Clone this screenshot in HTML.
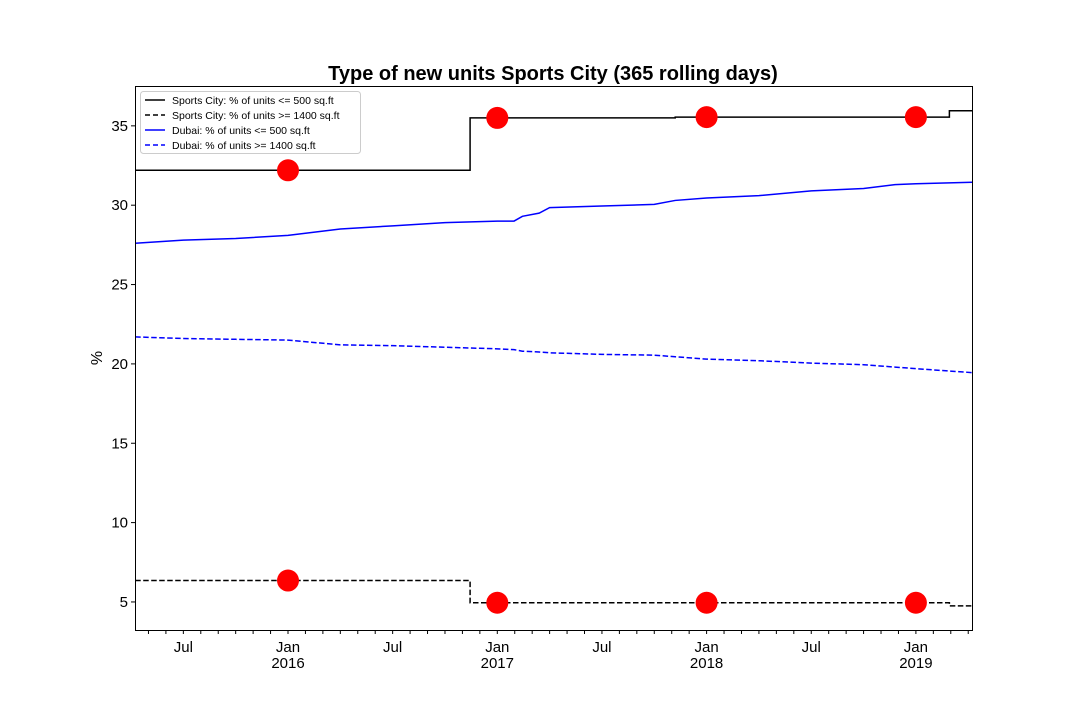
<!DOCTYPE html>
<html><head><meta charset="utf-8"><style>
body{margin:0;background:#fff}
svg text{font-family:"Liberation Sans","DejaVu Sans",sans-serif}
</style></head><body>
<svg id="chart" width="1080" height="720" xmlns="http://www.w3.org/2000/svg">
<rect width="1080" height="720" fill="#fff"/>
<text x="553" y="80" text-anchor="middle" font-size="20" font-weight="bold">Type of new units Sports City (365 rolling days)</text>
<text transform="translate(102,358) rotate(-90)" text-anchor="middle" font-size="16">%</text>
<g id="plot"></g>
<rect x="135.5" y="86.5" width="837" height="544" fill="none" stroke="#000" stroke-width="1"/>
<g>
<rect x="140.5" y="91.5" width="220" height="62" rx="3" fill="#fff" stroke="#ccc"/>
<line x1="145" y1="100" x2="165" y2="100" stroke="#000" stroke-width="1.5"/>
<text x="172" y="104" font-size="10.5">Sports City: % of units &lt;= 500 sq.ft</text>
<line x1="145" y1="115" x2="165" y2="115" stroke="#000" stroke-width="1.5" stroke-dasharray="5,3"/>
<text x="172" y="119" font-size="10.5">Sports City: % of units &gt;= 1400 sq.ft</text>
<line x1="145" y1="130" x2="165" y2="130" stroke="#00f" stroke-width="1.5"/>
<text x="172" y="134" font-size="10.5">Dubai: % of units &lt;= 500 sq.ft</text>
<line x1="145" y1="145" x2="165" y2="145" stroke="#00f" stroke-width="1.5" stroke-dasharray="5,3"/>
<text x="172" y="149" font-size="10.5">Dubai: % of units &gt;= 1400 sq.ft</text>
</g>
</svg>
<script>
const yTicks=[5,10,15,20,25,30,35];
const xTickYears=[2016,2017,2018,2019];
const xJulYears=[2015,2016,2017,2018];
// Sports City step series: change times (decimal year) and values
const scSmallT=[2015.27,2016.87,2017.85,2019.16,2019.27];
const scSmallV=[32.2,35.5,35.55,35.95,35.95];
const scLargeT=[2015.27,2016.87,2019.16,2019.27];
const scLargeV=[6.35,4.95,4.75,4.75];
// Dubai series (decimal year, value)
const dubT=[2015.27,2015.5,2015.75,2016.0,2016.25,2016.5,2016.75,2017.0,2017.08,2017.12,2017.2,2017.25,2017.5,2017.75,2017.85,2018.0,2018.25,2018.5,2018.75,2018.9,2019.0,2019.27];
const dubSmallV=[27.6,27.8,27.9,28.1,28.5,28.7,28.9,29.0,29.0,29.3,29.5,29.85,29.95,30.05,30.3,30.45,30.6,30.9,31.05,31.3,31.35,31.45];
const dubLargeV=[21.7,21.6,21.55,21.5,21.2,21.15,21.05,20.95,20.9,20.8,20.75,20.7,20.6,20.55,20.45,20.3,20.2,20.05,19.95,19.8,19.7,19.45];
const dotT=[2016,2017,2018,2019];
const dotSmallV=[32.2,35.5,35.55,35.55];
const dotLargeV=[6.35,4.95,4.95,4.95];

const X=t=>288+(t-2016)*209.3;
const Y=v=>681.3-v*15.87;
const NS="http://www.w3.org/2000/svg";
const g=document.getElementById('plot');
function el(tag,attrs){const e=document.createElementNS(NS,tag);for(const k in attrs)e.setAttribute(k,attrs[k]);g.appendChild(e);return e;}

yTicks.forEach(v=>{
  const l=el('line',{x1:131,x2:135,y1:Y(v),y2:Y(v),stroke:'#000'});
  
  
  const t=el('text',{x:128,y:Y(v)+5,'text-anchor':'end','font-size':15});
  
  
  t.textContent=v;
});
for(let m=0;m<50;m++){
  const t=2015+3/12+m/12;
  const x=X(t);
  if(x<134)continue;
  if(x>973)break;
  const l=el('line',{x1:x,x2:x,y1:631,y2:634,stroke:'#000'});
  
  
}
xTickYears.forEach(yr=>{
  const t=el('text',{x:X(yr),y:652,'text-anchor':'middle','font-size':15});
  
  
  t.textContent='Jan';
  const t2=el('text',{x:X(yr),y:668,'text-anchor':'middle','font-size':15});
  
  
  t2.textContent=yr;
});
xJulYears.forEach(yr=>{
  const t=el('text',{x:X(yr+0.5),y:652,'text-anchor':'middle','font-size':15});
  
  
  t.textContent='Jul';
});
function stepPath(T,V){let d='M'+X(T[0])+','+Y(V[0]);for(let i=1;i<T.length;i++){d+=' H'+X(T[i])+' V'+Y(V[i]);}return d;}
function linePath(T,V){return T.map((t,i)=>(i?'L':'M')+X(t)+','+Y(V[i])).join(' ');}
const p1=el('path',{d:stepPath(scSmallT,scSmallV),fill:'none',stroke:'#000','stroke-width':1.5});


const p2=el('path',{d:stepPath(scLargeT,scLargeV),fill:'none',stroke:'#000','stroke-width':1.5,'stroke-dasharray':'5.5,2.5'});


const p3=el('path',{d:linePath(dubT,dubSmallV),fill:'none',stroke:'#00f','stroke-width':1.5});


const p4=el('path',{d:linePath(dubT,dubLargeV),fill:'none',stroke:'#00f','stroke-width':1.5,'stroke-dasharray':'5.5,2.5'});


dotT.forEach((t,i)=>{
  const c=el('circle',{cx:X(t),cy:Y(dotSmallV[i]),r:11,fill:'#f00'});
  
  
  const c2=el('circle',{cx:X(t),cy:Y(dotLargeV[i]),r:11,fill:'#f00'});
  
  
});
</script>
</body></html>
